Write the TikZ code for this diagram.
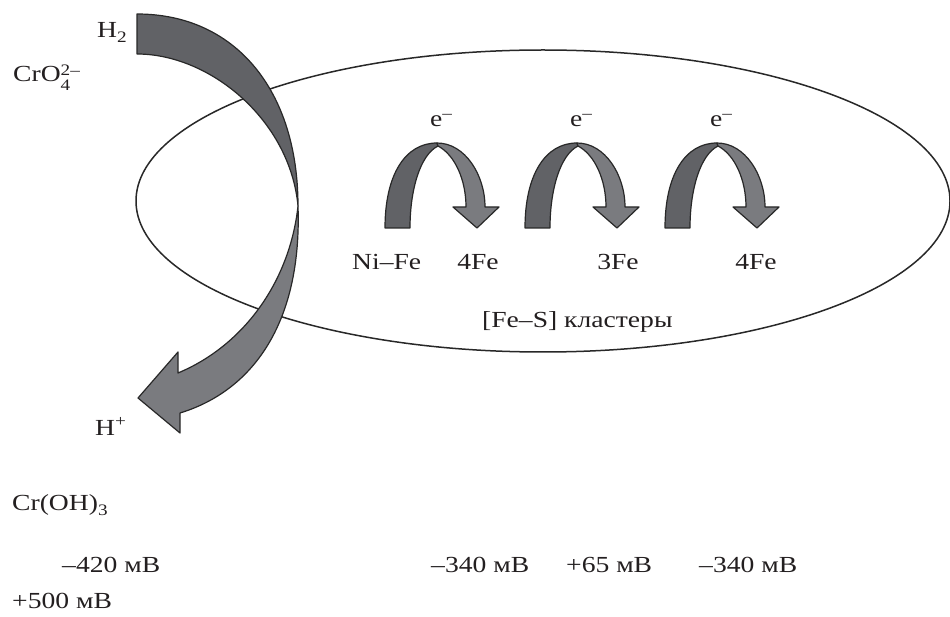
\documentclass[tikz,border=0pt]{standalone}
\usepackage{fontspec}
\setmainfont{Liberation Serif}[FakeStretch=1.2]
\newcommand\mysub[2][5pt]{\raisebox{-#1}{\fontsize{16}{16}\selectfont #2}}
\newcommand\mysup[2][9pt]{\raisebox{#1}{\fontsize{16}{16}\selectfont #2}}
\definecolor{ribdark}{RGB}{97,98,102}
\definecolor{riblight}{RGB}{122,123,127}
\definecolor{ink}{RGB}{35,31,32}
\definecolor{edge}{RGB}{40,40,40}
\newcommand\ribarrow{%
  \draw[ribd] (385,228) .. controls (385,175) and (405,143) .. (437,143) -- (438,146)
     .. controls (420,155) and (410,190) .. (410,228) -- cycle;
  \draw[ribl] (437,143) .. controls (465,143) and (485,175) .. (485,207) -- (499,207)
     -- (477,228) -- (453,207) -- (466,207) .. controls (466,180) and (455,155) .. (438,146) -- cycle;}
\begin{document}
\begin{tikzpicture}[x=1pt,y=-1pt,
  lbl/.style={inner sep=0pt, anchor=base west, text=ink, font=\fontsize{23}{27}\selectfont},
  lblc/.style={lbl, anchor=base},
  ribd/.style={fill=ribdark, draw=edge, line width=1.2pt, line join=round},
  ribl/.style={fill=riblight, draw=edge, line width=1.2pt, line join=round},
  oval/.style={draw=edge, line width=1.5pt}]
\useasboundingbox (0,0) rectangle (950,617);
\fill[white] (0,0) rectangle (950,617);
% cell
\draw[oval] (543,201) ellipse [x radius=407, y radius=151];
% big twisted arrow H2 -> H+
\draw[ribd] (137,14) .. controls (235,14) and (298,90) .. (298,206)
   .. controls (290,120) and (210,54) .. (137,54) -- cycle;
\draw[ribl] (298,206) .. controls (302,320) and (255,390) .. (180,413) -- (180,433)
   -- (138,398) -- (178,352) -- (178,373) .. controls (245,345) and (290,280) .. (298,206) -- cycle;
% small electron arrows
\ribarrow
\begin{scope}[shift={(140,0)}]\ribarrow\end{scope}
\begin{scope}[shift={(280,0)}]\ribarrow\end{scope}
% labels
\node[lbl] (h2) at (97,38) {H\mysub{2}};
\node[lbl] (cro4) at (13,82) {CrO\rlap{\mysub[9pt]{4}}\mysup[6pt]{2–}};
\node[lbl] (hplus) at (95,435) {H\mysup{+}};
\node[lbl] (croh) at (12,510) {Cr(OH)\mysub{3}};
\node[lbl] (e1) at (430,127) {e\mysup[8pt]{–}};
\node[lbl] (e2) at (570,127) {e\mysup[8pt]{–}};
\node[lbl] (e3) at (710,127) {e\mysup[8pt]{–}};
\node[lbl] (nife) at (352,270) {Ni–Fe};
\node[lblc] (fe1) at (478,270) {4Fe};
\node[lblc] (fe2) at (618,270) {3Fe};
\node[lblc] (fe3) at (756,270) {4Fe};
\node[lbl] (fes) at (482,328) {[Fe–S] кластеры};
\node[lbl] (p1) at (62,572) {–420 мВ};
\node[lbl] (p2) at (431,572) {–340 мВ};
\node[lbl] (p3) at (566,572) {+65 мВ};
\node[lbl] (p4) at (699,572) {–340 мВ};
\node[lbl] (p5) at (12,608) {+500 мВ};
\end{tikzpicture}
\end{document}
